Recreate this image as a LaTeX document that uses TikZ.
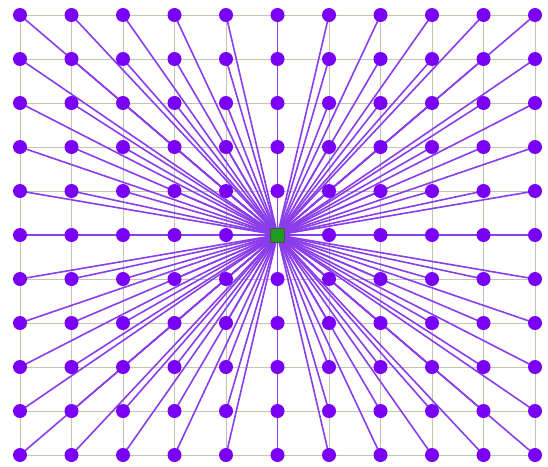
\documentclass[tikz,border=0pt]{standalone}
\usetikzlibrary{backgrounds}
\definecolor{dotc}{HTML}{7A00F5}
\definecolor{linec}{HTML}{8A3DEB}
\definecolor{gridc}{HTML}{C4C4B4}
\definecolor{cen}{HTML}{1E9A1E}
\tikzset{
  dotnode/.style={circle,fill=dotc,draw=none,inner sep=0pt,minimum size=14pt},
  cennode/.style={rectangle,fill=cen,draw=black!70,line width=0.8pt,inner sep=0pt,minimum size=14pt},
  gridline/.style={gridc,line width=1pt},
  spoke/.style={linec,line width=1.6pt},
}
\begin{document}
\begin{tikzpicture}[x=1pt,y=-1pt]
\useasboundingbox (0,0) rectangle (548,466);
\foreach \i in {0,...,10}{
  \foreach \j in {0,...,10}{
    \node[dotnode] (n-\i-\j) at ({20+51.5*\i},{15+44*\j}) {};
  }
}
\node[cennode] (c) at (n-5-5) {};
\begin{scope}[on background layer]
  \foreach \k in {0,...,10}{
    \draw[gridline] (n-0-\k.center) -- (n-10-\k.center);
    \draw[gridline] (n-\k-0.center) -- (n-\k-10.center);
  }
  \foreach \i in {0,...,10}{
    \foreach \j in {0,...,10}{
      \ifnum\i=5 \ifnum\j=5 \else \draw[spoke] (n-\i-\j.center) -- (c.center); \fi
      \else \draw[spoke] (n-\i-\j.center) -- (c.center); \fi
    }
  }
\end{scope}
\end{tikzpicture}
\end{document}
